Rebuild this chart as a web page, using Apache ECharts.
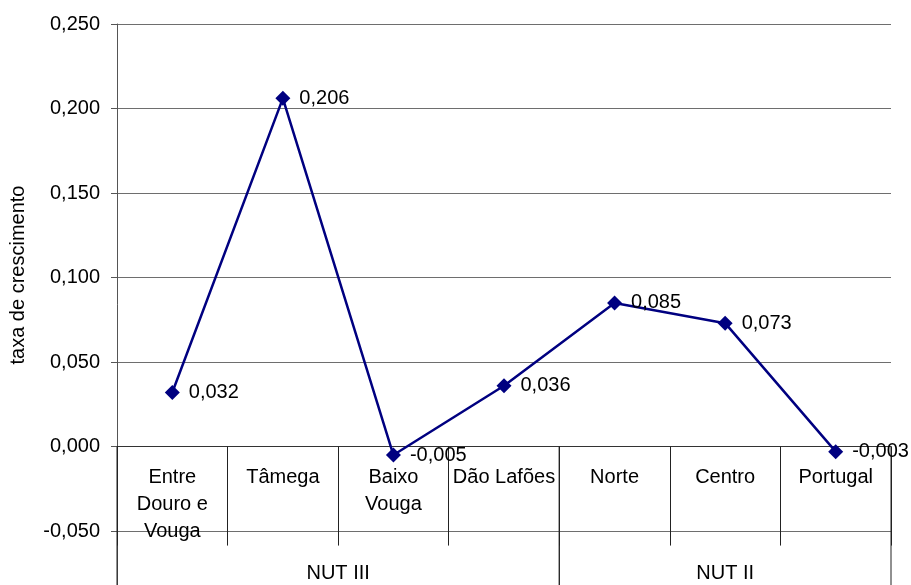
<!DOCTYPE html>
<html>
<head>
<meta charset="utf-8">
<title>Taxa de crescimento</title>
<script src="https://cdn.jsdelivr.net/npm/echarts@6/dist/echarts.min.js"></script>
<style>
  html, body { margin: 0; padding: 0; background: #fff; }
  #chart { width: 911px; height: 585px; }
</style>
</head>
<body>
<div id="chart"></div>
<script>
// Regions (NUT III and NUT II) and their growth rates
const categories = ['Entre\nDouro e\nVouga', 'Tâmega', 'Baixo\nVouga', 'Dão Lafões', 'Norte', 'Centro', 'Portugal'];
const growthRates = [0.032, 0.206, -0.005, 0.036, 0.085, 0.073, -0.003];

// Region groups: name, first and last category index
const groupNames = ['NUT III', 'NUT II'];
const groupFirst = [0, 4];
const groupLast = [3, 6];

const yMin = -0.1, yMax = 0.25, yStep = 0.05;
const FONT = '"Liberation Sans", Arial, sans-serif';

// plot height; the lower part of the value range runs past the page edge
const plotHeight = 591.6;
// shift the category axis up from the grid bottom to the zero line
const zeroOffset = -plotHeight * (0 - yMin) / (yMax - yMin);

const fmt = v => v.toFixed(3).replace('.', ',');

const chart = echarts.init(document.getElementById('chart'), null, { renderer: 'canvas' });

chart.setOption({
  animation: false,
  backgroundColor: '#ffffff',
  textStyle: { fontFamily: FONT },
  grid: {
    left: 117, top: 24, width: 774, height: plotHeight,
    containLabel: false, outerBoundsMode: 'none'
  },
  xAxis: {
    type: 'category',
    data: categories,
    position: 'bottom',
    offset: zeroOffset,
    boundaryGap: true,
    axisLine: { show: true, onZero: false, lineStyle: { color: '#333', width: 1 } },
    axisTick: { show: true, interval: 0, length: 99, lineStyle: { color: '#222', width: 1 } },
    axisLabel: {
      interval: 0, margin: 17, fontSize: 20, lineHeight: 27,
      color: '#000', fontFamily: FONT, align: 'center'
    },
    splitLine: { show: false }
  },
  yAxis: {
    type: 'value',
    min: yMin, max: yMax, interval: yStep,
    axisLine: { show: true, lineStyle: { color: '#555', width: 1 } },
    axisTick: { show: true, length: 6, lineStyle: { color: '#555' } },
    axisLabel: { margin: 17, fontSize: 20, color: '#000', fontFamily: FONT, formatter: fmt },
    splitLine: { show: true, lineStyle: { color: '#6e6e6e', width: 1 } }
  },
  graphic: [{
    type: 'text',
    x: 18, y: 275,
    rotation: Math.PI / 2,
    style: {
      text: 'taxa de crescimento', fontSize: 20, fontFamily: FONT, fill: '#000',
      align: 'center', verticalAlign: 'middle'
    }
  }],
  series: [
    {
      type: 'custom',
      silent: true,
      clip: false,
      z: 1,
      encode: { x: [0, 1] },
      data: groupNames.map((n, i) => [groupFirst[i], groupLast[i], n]),
      renderItem: (params, api) => {
        const first = api.value(0), last = api.value(1);
        const half = api.size([1, 0])[0] / 2;
        const p0 = api.coord([first, 0]);
        const p1 = api.coord([last, 0]);
        const bottom = api.coord([first, yMin])[1];
        const xl = p0[0] - half, xr = p1[0] + half;
        const style = { stroke: '#222', lineWidth: 1 };
        return {
          type: 'group',
          children: [
            { type: 'line', shape: { x1: xl, y1: p0[1], x2: xl, y2: bottom }, style },
            { type: 'line', shape: { x1: xr, y1: p0[1], x2: xr, y2: bottom }, style },
            {
              type: 'text',
              x: (xl + xr) / 2, y: p0[1] + 127,
              style: {
                text: groupNames[params.dataIndex], fontSize: 20, fontFamily: FONT,
                fill: '#000', align: 'center', verticalAlign: 'middle'
              }
            }
          ]
        };
      }
    },
    {
      type: 'line',
      data: growthRates,
      z: 5,
      symbol: 'diamond',
      symbolSize: 15,
      lineStyle: { color: '#000080', width: 2.5 },
      itemStyle: { color: '#000080' },
      label: {
        show: true, position: 'right', distance: 9,
        fontSize: 20, color: '#000', fontFamily: FONT,
        formatter: p => fmt(p.value)
      }
    }
  ]
});
</script>
</body>
</html>
